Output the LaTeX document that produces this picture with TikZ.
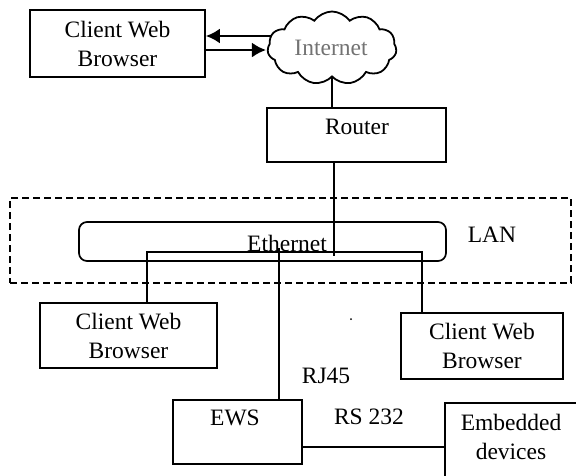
\documentclass[tikz,border=0pt]{standalone}
\usepackage{fontspec}
\setmainfont{Liberation Serif}
\usetikzlibrary{shapes.symbols,arrows.meta}
\tikzset{
  box/.style={draw, line width=1.7pt, rectangle, inner sep=0pt, align=center},
  txt/.style={inner sep=0pt, align=center, font=\fontsize{23.5}{29}\selectfont},
  wire/.style={line width=1.8pt},
  arr/.style={line width=2.4pt, -{Latex[length=14pt,width=15pt]}},
}
\begin{document}
\begin{tikzpicture}[x=1pt,y=-1pt]
\useasboundingbox (0,0) rectangle (576,475);
\clip (0,0) rectangle (576,475);
% top client
\node[box, minimum width=175pt, minimum height=67pt, font=\fontsize{23.5}{29}\selectfont] (cwb1) at (117.5,43.5) {Client Web\\Browser};
% cloud
\node[cloud, draw, line width=1.8pt, cloud puffs=11, cloud puff arc=110, aspect=1.7, minimum width=129pt, minimum height=73pt, inner sep=0pt] (inet) at (332,48) {};
\node[txt, text=black!55] (inettxt) at (331,48) {Internet};
% arrows
\coordinate (a1) at ([xshift=5pt,yshift=12pt]inet.west);
\coordinate (a2) at ([xshift=-1pt,yshift=-2pt]inet.west);
\draw[arr] (a1) -- (a1 -| cwb1.east);
\draw[arr] ([xshift=-2pt]a2 -| cwb1.east) -- (a2);
% router
\node[box, minimum width=179pt, minimum height=54pt] (router) at (356.5,135) {};
\node[txt] (routertxt) at (357,127) {Router};
\draw[wire] (inet.south) -- (inet.south |- router.north);
% LAN
\node[draw, dashed, dash pattern=on 7pt off 4pt, line width=2.6pt, minimum width=561pt, minimum height=85pt, inner sep=0pt] (lan) at (290.5,240.5) {};
\node[txt] (lantxt) at (492,235) {LAN};
% Ethernet
\node[draw, line width=1.7pt, rounded corners=8pt, minimum width=367pt, minimum height=39pt, inner sep=0pt] (eth) at (262.5,241.5) {};
\node[txt] (ethtxt) at (287,243) {Ethernet};
\coordinate (rt) at ([xshift=2pt]router.south -| inet.south);
\coordinate (rj) at ([yshift=-93pt]rt);
\draw[wire] (rt) -- (rj);
% clients
\node[box, minimum width=177pt, minimum height=65pt, font=\fontsize{23.5}{29}\selectfont] (cwb2) at (128.5,335.5) {Client Web\\Browser};
\node[box, minimum width=162pt, minimum height=66pt, font=\fontsize{23.5}{29}\selectfont] (cwb3) at (482,346) {Client Web\\Browser};
% EWS
\node[box, minimum width=129pt, minimum height=64pt] (ews) at (237.5,432) {};
\node[txt] (ewstxt) at (235,418) {EWS};
% Embedded
\node[box, minimum width=155pt, minimum height=97pt] (emb) at (522.5,451.5) {};
\node[txt] (embtxt) at (511,437) {Embedded\\devices};
% bus wiring
\coordinate (bl) at (147,252);
\coordinate (br) at (422,252);
\draw[wire] (bl |- cwb2.north) -- (bl) -- (br) -- (br |- cwb3.north);
\coordinate (bm) at (279,248);
\draw[wire] (bm) -- (bm |- ews.north);
\coordinate (e1) at ([yshift=-15pt]ews.east);
\draw[wire] (e1) -- (e1 -| emb.west);
% labels
\node[txt] (rj45) at (326,376) {RJ45};
\node[txt] (rs232) at (369,417) {RS 232};
\fill (351,319) circle (1pt);
\end{tikzpicture}
\end{document}
